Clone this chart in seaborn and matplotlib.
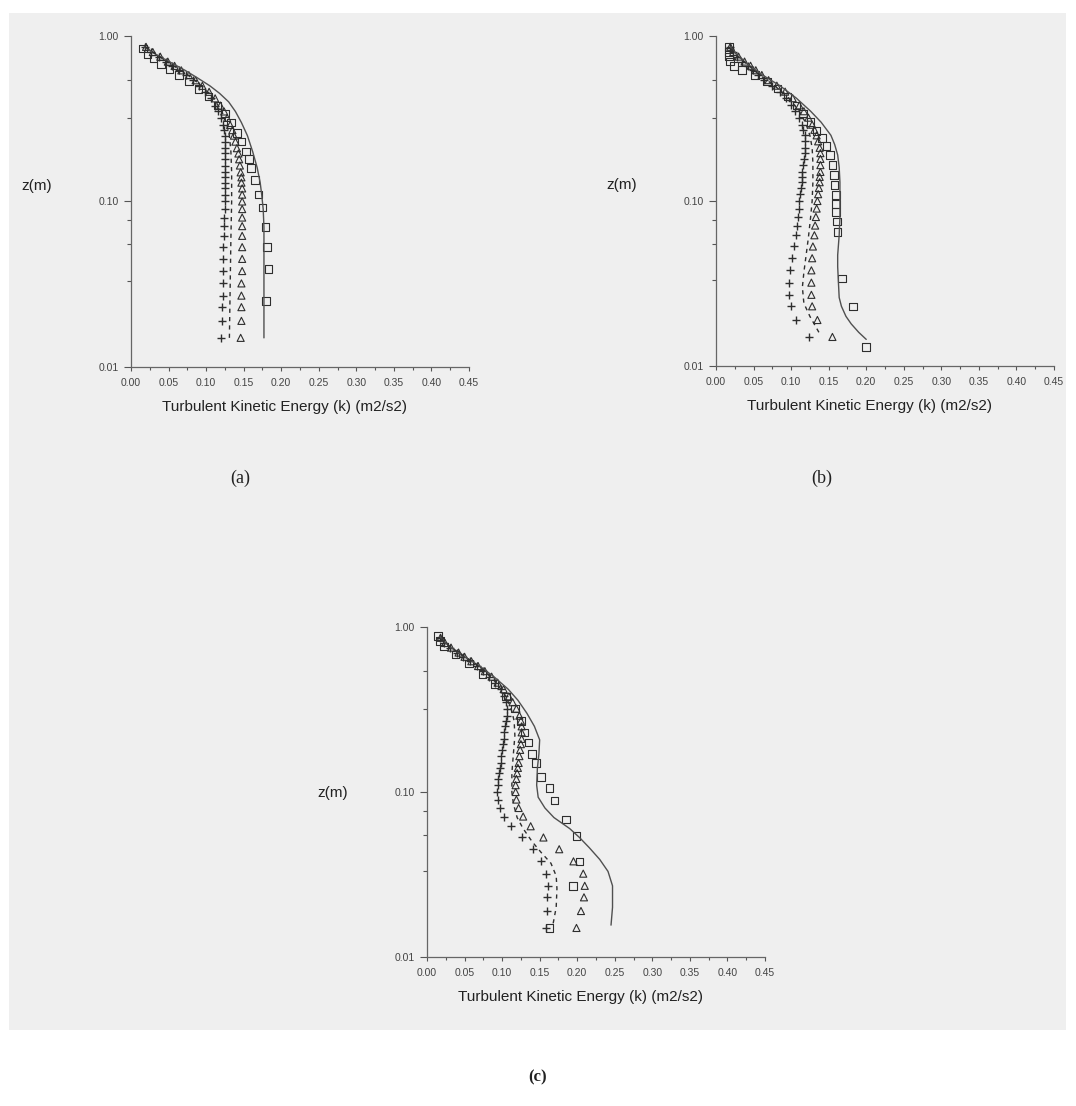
import matplotlib
matplotlib.use("Agg")
import matplotlib.pyplot as plt
import matplotlib.transforms as mtransforms
from matplotlib.patches import Rectangle
from matplotlib.ticker import FixedLocator, NullFormatter
import seaborn as sns

sns.set_style("ticks")
plt.rcParams["font.family"] = ["Liberation Sans", "DejaVu Sans"]

# ---------------- data ----------------
# common heights of the symbol series (m)
Z_PTS = [0.015, 0.019, 0.023, 0.027, 0.032, 0.038, 0.045, 0.053, 0.062, 0.071,
         0.08, 0.09, 0.10, 0.11, 0.12, 0.13, 0.14, 0.15, 0.165, 0.18,
         0.195, 0.21, 0.23, 0.25, 0.27, 0.29, 0.32, 0.35, 0.38, 0.42,
         0.46, 0.50, 0.54, 0.58, 0.62, 0.66, 0.70, 0.75, 0.80, 0.86]

# ---- panel (a)
K_PLUS_A = [0.120, 0.121, 0.121, 0.122, 0.122, 0.123, 0.123, 0.123, 0.124, 0.124,
            0.124, 0.125, 0.125, 0.125, 0.125, 0.125, 0.125, 0.125, 0.125, 0.125,
            0.125, 0.125, 0.125, 0.125, 0.124, 0.123, 0.120, 0.116, 0.112, 0.106,
            0.099, 0.091, 0.082, 0.073, 0.064, 0.055, 0.047, 0.037, 0.027, 0.019]
K_TRI_A = [0.146, 0.147, 0.147, 0.147, 0.147, 0.148, 0.148, 0.148, 0.148, 0.148,
           0.148, 0.148, 0.148, 0.148, 0.148, 0.147, 0.147, 0.146, 0.145, 0.144,
           0.143, 0.141, 0.139, 0.137, 0.135, 0.132, 0.128, 0.124, 0.119, 0.112,
           0.104, 0.095, 0.086, 0.077, 0.067, 0.058, 0.049, 0.039, 0.029, 0.020]
Z_SQ_A = [0.025, 0.039, 0.053, 0.07, 0.092, 0.11, 0.135, 0.16, 0.18, 0.2, 0.23, 0.26,
          0.3, 0.34, 0.38, 0.43, 0.48, 0.53, 0.58, 0.63, 0.68, 0.73, 0.78, 0.84]
K_SQ_A = [0.180, 0.183, 0.181, 0.179, 0.175, 0.170, 0.165, 0.160, 0.157, 0.153, 0.147, 0.141,
          0.133, 0.125, 0.115, 0.103, 0.090, 0.077, 0.064, 0.051, 0.040, 0.030, 0.022, 0.016]
Z_DASH_A = [0.015, 0.03, 0.06, 0.1, 0.15, 0.2, 0.25, 0.3, 0.35, 0.42, 0.5, 0.58, 0.66, 0.75, 0.86]
K_DASH_A = [0.131, 0.132, 0.133, 0.134, 0.134, 0.133, 0.131, 0.127, 0.121, 0.110, 0.094,
            0.076, 0.057, 0.038, 0.019]
Z_LINE_A = [0.015, 0.02, 0.03, 0.04, 0.05, 0.07, 0.09, 0.11, 0.13, 0.16, 0.2, 0.25, 0.3,
            0.35, 0.4, 0.45, 0.5, 0.56, 0.62, 0.68, 0.74, 0.8, 0.86]
K_LINE_A = [0.177, 0.177, 0.177, 0.177, 0.177, 0.177, 0.176, 0.174, 0.172, 0.168, 0.162,
            0.155, 0.147, 0.139, 0.130, 0.118, 0.105, 0.088, 0.072, 0.056, 0.041, 0.028, 0.018]

# ---- panel (b)
K_PLUS_B = [0.124, 0.107, 0.100, 0.097, 0.097, 0.099, 0.101, 0.104, 0.106, 0.108,
            0.109, 0.110, 0.111, 0.112, 0.113, 0.114, 0.115, 0.115, 0.116, 0.117,
            0.118, 0.119, 0.119, 0.118, 0.116, 0.114, 0.110, 0.105, 0.100, 0.093,
            0.085, 0.074, 0.064, 0.056, 0.049, 0.042, 0.035, 0.028, 0.022, 0.018]
K_TRI_B = [0.155, 0.135, 0.128, 0.127, 0.127, 0.127, 0.128, 0.129, 0.131, 0.132,
           0.133, 0.134, 0.135, 0.136, 0.137, 0.138, 0.138, 0.139, 0.139, 0.139,
           0.139, 0.138, 0.136, 0.134, 0.131, 0.128, 0.123, 0.117, 0.111, 0.102,
           0.092, 0.081, 0.070, 0.061, 0.053, 0.046, 0.038, 0.030, 0.023, 0.019]
Z_SQ_B = [0.013, 0.023, 0.034, 0.065, 0.075, 0.086, 0.096, 0.109, 0.125, 0.144, 0.165,
          0.19, 0.215, 0.24, 0.265, 0.3, 0.34, 0.38, 0.43, 0.48, 0.53, 0.58, 0.62,
          0.66, 0.70, 0.75, 0.80, 0.86]
K_SQ_B = [0.200, 0.182, 0.168, 0.162, 0.161, 0.160, 0.160, 0.160, 0.158, 0.157, 0.155,
          0.152, 0.147, 0.141, 0.134, 0.126, 0.116, 0.107, 0.095, 0.082, 0.068, 0.052, 0.035,
          0.024, 0.019, 0.017, 0.017, 0.017]
Z_DASH_B = [0.016, 0.02, 0.024, 0.03, 0.037, 0.047, 0.06, 0.08, 0.1, 0.13, 0.17, 0.21, 0.25,
            0.3, 0.35, 0.42, 0.5, 0.58, 0.66, 0.75, 0.86]
K_DASH_B = [0.137, 0.125, 0.117, 0.115, 0.117, 0.120, 0.123, 0.126, 0.128, 0.129, 0.129,
            0.128, 0.125, 0.119, 0.111, 0.097, 0.078, 0.058, 0.044, 0.029, 0.018]
Z_LINE_B = [0.0145, 0.016, 0.018, 0.02, 0.023, 0.026, 0.032, 0.04, 0.047, 0.062, 0.08, 0.1,
            0.13, 0.16, 0.19, 0.22, 0.25, 0.3, 0.35, 0.42, 0.5, 0.58, 0.66, 0.75, 0.86]
K_LINE_B = [0.200, 0.190, 0.180, 0.173, 0.167, 0.164, 0.163, 0.162, 0.162, 0.164, 0.165, 0.165,
            0.165, 0.164, 0.162, 0.158, 0.153, 0.140, 0.126, 0.107, 0.085, 0.062, 0.045, 0.030,
            0.019]

# ---- panel (c)
K_PLUS_C = [0.158, 0.160, 0.160, 0.161, 0.159, 0.152, 0.141, 0.126, 0.112, 0.103,
            0.097, 0.094, 0.093, 0.094, 0.095, 0.096, 0.097, 0.098, 0.099, 0.100,
            0.101, 0.102, 0.103, 0.104, 0.105, 0.106, 0.106, 0.105, 0.103, 0.098,
            0.091, 0.083, 0.075, 0.066, 0.057, 0.048, 0.040, 0.030, 0.022, 0.017]
K_TRI_C = [0.199, 0.205, 0.209, 0.210, 0.208, 0.195, 0.176, 0.155, 0.138, 0.128,
           0.122, 0.119, 0.118, 0.118, 0.119, 0.120, 0.121, 0.122, 0.123, 0.124,
           0.125, 0.126, 0.126, 0.126, 0.125, 0.123, 0.119, 0.114, 0.109, 0.102,
           0.094, 0.086, 0.077, 0.068, 0.059, 0.050, 0.042, 0.032, 0.024, 0.018]
Z_SQ_C = [0.015, 0.027, 0.038, 0.054, 0.068, 0.089, 0.106, 0.123, 0.15, 0.17, 0.2, 0.23,
          0.27, 0.32, 0.38, 0.45, 0.52, 0.6, 0.68, 0.76, 0.82, 0.88]
K_SQ_C = [0.163, 0.194, 0.203, 0.199, 0.185, 0.170, 0.163, 0.152, 0.145, 0.140, 0.135, 0.130,
          0.125, 0.117, 0.105, 0.090, 0.074, 0.056, 0.038, 0.023, 0.017, 0.015]
Z_DASH_C = [0.016, 0.02, 0.026, 0.031, 0.037, 0.043, 0.05, 0.06, 0.07, 0.085, 0.1, 0.13, 0.17,
            0.22, 0.27, 0.32, 0.38, 0.46, 0.54, 0.62, 0.7, 0.8, 0.86]
K_DASH_C = [0.168, 0.172, 0.173, 0.172, 0.165, 0.152, 0.140, 0.128, 0.120, 0.115, 0.113, 0.113,
            0.115, 0.117, 0.116, 0.112, 0.105, 0.092, 0.077, 0.060, 0.042, 0.024, 0.018]
Z_LINE_C = [0.0156, 0.02, 0.027, 0.033, 0.039, 0.046, 0.053, 0.06, 0.07, 0.08, 0.093, 0.11,
            0.14, 0.17, 0.207, 0.25, 0.3, 0.36, 0.42, 0.5, 0.58, 0.66, 0.75, 0.82, 0.88]
K_LINE_C = [0.245, 0.247, 0.247, 0.241, 0.230, 0.216, 0.203, 0.190, 0.169, 0.157, 0.148, 0.146,
            0.147, 0.149, 0.150, 0.143, 0.133, 0.121, 0.108, 0.089, 0.070, 0.050, 0.032, 0.022,
            0.017]

X_TICKS = [0.00, 0.05, 0.10, 0.15, 0.20, 0.25, 0.30, 0.35, 0.40, 0.45]
X_TICK_LABELS = ["0.00", "0.05", "0.10", "0.15", "0.20", "0.25", "0.30", "0.35", "0.40", "0.45"]
Y_TICKS = [0.01, 0.10, 1.00]
Y_TICK_LABELS = ["0.01", "0.10", "1.00"]
Y_MINOR = [0.033, 0.055, 0.077, 0.32, 0.54]
X_LABEL = "Turbulent Kinetic Energy (k) (m2/s2)"
Y_LABEL = "z(m)"

PANELS = [
    dict(name="(a)", plus=K_PLUS_A, tri=K_TRI_A, zsq=Z_SQ_A, sq=K_SQ_A,
         zd=Z_DASH_A, kd=K_DASH_A, zl=Z_LINE_A, kl=K_LINE_A,
         box=(131, 36, 338, 331), zlab=0.124, letter_xy=(240, 478), bold=False),
    dict(name="(b)", plus=K_PLUS_B, tri=K_TRI_B, zsq=Z_SQ_B, sq=K_SQ_B,
         zd=Z_DASH_B, kd=K_DASH_B, zl=Z_LINE_B, kl=K_LINE_B,
         box=(716, 36, 338, 330), zlab=0.125, letter_xy=(822, 478), bold=False),
    dict(name="(c)", plus=K_PLUS_C, tri=K_TRI_C, zsq=Z_SQ_C, sq=K_SQ_C,
         zd=Z_DASH_C, kd=K_DASH_C, zl=Z_LINE_C, kl=K_LINE_C,
         box=(427, 627, 338, 330), zlab=0.098, letter_xy=(538, 1077), bold=True),
]

# ---------------- figure ----------------
W, H = 1076, 1106
fig = plt.figure(figsize=(W / 100, H / 100), dpi=100)
fig.patch.set_facecolor("white")
fig.patches.append(Rectangle((9 / W, 1 - 1030 / H), 1057 / W, (1030 - 13) / H,
                             transform=fig.transFigure, facecolor="#efefef",
                             edgecolor="none", zorder=-10))

INK = "#2e2e2e"
for p in PANELS:
    l, t, w, h = p["box"]
    ax = fig.add_axes([l / W, 1 - (t + h) / H, w / W, h / H])
    ax.set_facecolor("none")

    sns.lineplot(x=p["kl"], y=p["zl"], sort=False, estimator=None, ax=ax,
                 color="#505050", lw=1.0)
    sns.lineplot(x=p["kd"], y=p["zd"], sort=False, estimator=None, ax=ax,
                 color=INK, lw=1.0, linestyle=(0, (3, 3)))
    sns.scatterplot(x=p["plus"], y=Z_PTS, ax=ax, marker="+", s=38,
                    color=INK, linewidth=1.0)
    sns.scatterplot(x=p["tri"], y=Z_PTS, ax=ax, marker="^", s=26,
                    facecolors="none", edgecolors=INK, linewidths=0.8)
    sns.scatterplot(x=p["sq"], y=p["zsq"], ax=ax, marker="s", s=30,
                    facecolors="none", edgecolors=INK, linewidths=0.8)

    ax.set_yscale("log")
    ax.set_xlim(0, 0.45)
    ax.set_ylim(0.01, 1.0)
    ax.set_xticks(X_TICKS)
    ax.set_xticklabels(X_TICK_LABELS)
    ax.xaxis.set_minor_locator(FixedLocator([0.025 + 0.05 * i for i in range(9)]))
    ax.set_yticks(Y_TICKS)
    ax.set_yticklabels(Y_TICK_LABELS)
    ax.yaxis.set_minor_locator(FixedLocator(Y_MINOR))
    ax.yaxis.set_minor_formatter(NullFormatter())
    ax.tick_params(axis="both", which="major", labelsize=7.5, colors="#555555",
                   labelcolor="#444444", width=0.8)
    ax.tick_params(axis="y", which="major", length=5, pad=4)
    ax.tick_params(axis="y", which="minor", length=3, width=0.8, colors="#555555")
    ax.tick_params(axis="x", which="major", length=3, pad=5)
    ax.tick_params(axis="x", which="minor", length=2, width=0.8, colors="#555555")
    for s in ("top", "right"):
        ax.spines[s].set_visible(False)
    for s in ("left", "bottom"):
        ax.spines[s].set_color("#666666")
        ax.spines[s].set_linewidth(0.9)
    ax.set_xlabel("")
    ax.set_ylabel("")

    ax.text(0.455, -0.12, X_LABEL, transform=ax.transAxes, ha="center", va="center",
            fontsize=11, color="#222222")
    trans = mtransforms.blended_transform_factory(ax.transAxes, ax.transData)
    ax.text(-0.28, p["zlab"], Y_LABEL, transform=trans, ha="center", va="center",
            fontsize=11, color="#222222")
    lx, ly = p["letter_xy"]
    fig.text(lx / W, 1 - ly / H, p["name"], ha="center", va="center",
             fontsize=13 if not p["bold"] else 12,
             fontweight="bold" if p["bold"] else "normal",
             family=["Liberation Serif", "DejaVu Serif"], color="#222222")

fig.savefig("out.png", dpi=100, facecolor=fig.get_facecolor())
